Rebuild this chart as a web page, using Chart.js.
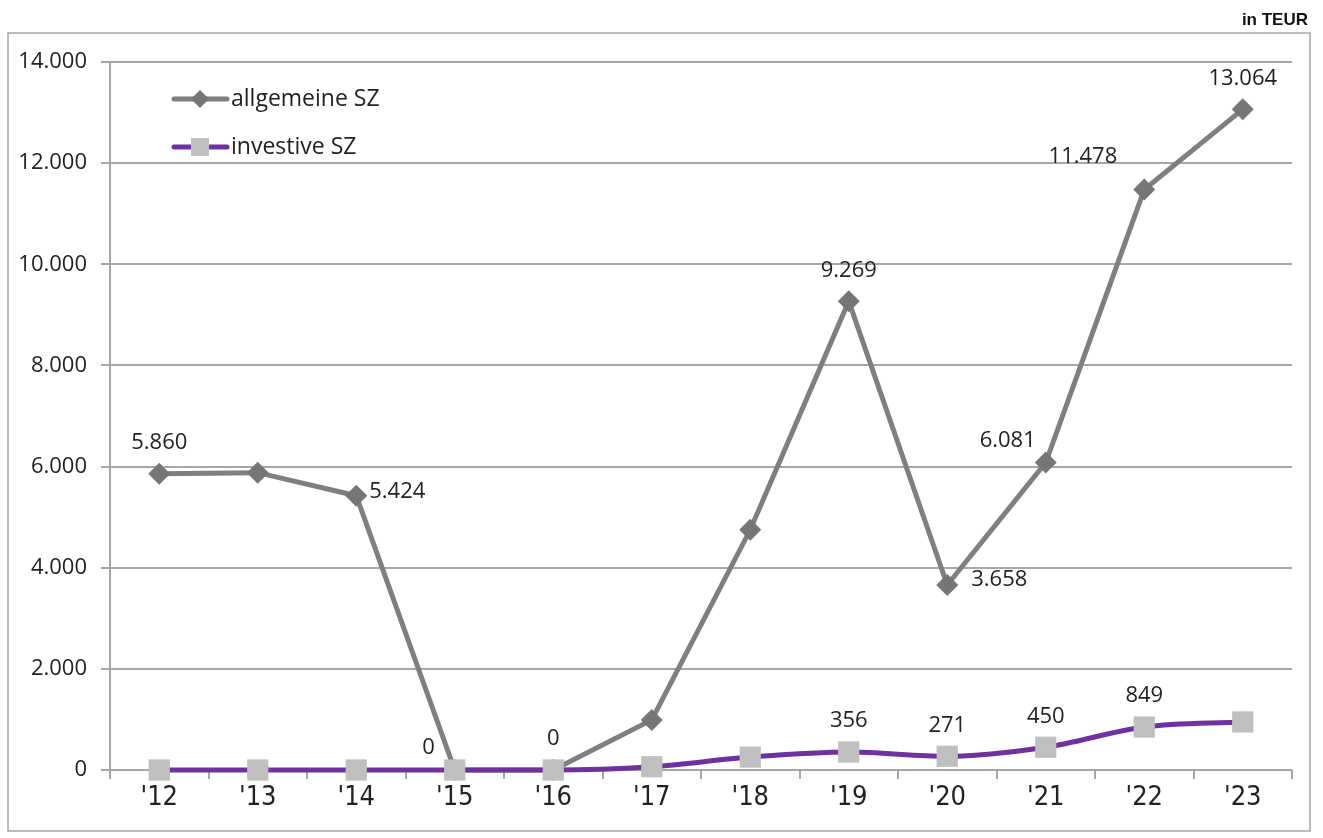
<!DOCTYPE html>
<html>
<head>
<meta charset="utf-8">
<script src="https://cdn.jsdelivr.net/npm/chart.js@4/dist/chart.umd.min.js"></script>
<style>
  html, body { margin: 0; padding: 0; background: #fff; }
  #wrap { position: relative; width: 1323px; height: 838px; }
</style>
</head>
<body>
<div id="wrap"><canvas id="chart"></canvas></div>
<script>
// ---- Daten ----
const JAHRE       = ["'12", "'13", "'14", "'15", "'16", "'17", "'18", "'19", "'20", "'21", "'22", "'23"];
const ALLGEMEIN   = [5860, 5880, 5424, 0, 0, 990, 4750, 9269, 3658, 6081, 11478, 13064];
const INVESTIV    = [0, 0, 0, 0, 0, 65, 255, 356, 271, 450, 849, 950];
// welche Werte beschriftet werden und wo (null = keine Beschriftung)
const LBL_ALLG    = ['above', null, 'right', 'aboveLeft', 'above', null, null, 'above', 'belowRight', 'aboveLeft', 'left', 'above'];
const LBL_INV     = [null, null, null, null, null, null, null, 'above', 'above', 'above', 'above', null];
const Y_TICKS     = [0, 2000, 4000, 6000, 8000, 10000, 12000, 14000];

const GRAU   = '#7f7f7f';
const LILA   = '#7030a0';
const HELL   = '#bfbfbf';
const TEXT   = '#222222';
const FONT   = "'Open Sans', 'Noto Sans', sans-serif";
const NARROW = "'DejaVu Sans Condensed', 'Liberation Sans Narrow', 'Liberation Sans', sans-serif";

function fmt(n) {
  return String(n).replace(/\B(?=(\d{3})+(?!\d))/g, '.');
}

// Rahmen + "in TEUR"
const rahmenPlugin = {
  id: 'rahmen',
  beforeDraw(chart) {
    const c = chart.ctx;
    c.save();
    c.fillStyle = '#fff';
    c.fillRect(0, 0, chart.width, chart.height);
    c.strokeStyle = '#a6a6a6';
    c.lineWidth = 1.5;
    c.strokeRect(8, 33, 1302, 798);
    c.fillStyle = '#111';
    c.font = "bold 17px 'Liberation Sans', Arial, sans-serif";
    c.textAlign = 'right';
    c.textBaseline = 'middle';
    c.fillText('in TEUR', 1308, 20);
    c.restore();
  }
};

// Datenbeschriftungen
const labelPlugin = {
  id: 'werte',
  afterDatasetsDraw(chart) {
    const c = chart.ctx;
    const pos = [LBL_ALLG, LBL_INV];
    c.save();
    c.font = '22px ' + FONT;
    c.fillStyle = TEXT;
    c.textBaseline = 'middle';
    chart.data.datasets.forEach((ds, di) => {
      chart.getDatasetMeta(di).data.forEach((pt, i) => {
        const p = pos[di][i];
        if (!p) return;
        let x = pt.x, y = pt.y;
        if (p === 'above')      { c.textAlign = 'center'; y -= 31; }
        if (p === 'right')      { c.textAlign = 'left';   x += 13; y -= 4; }
        if (p === 'belowRight') { c.textAlign = 'left';   x += 24; y -= 5; }
        if (p === 'left')       { c.textAlign = 'right';  x -= 27; y -= 33; }
        if (p === 'aboveLeft')  { c.textAlign = 'right';  x -= 20; y -= 22; }
        // '21: Beschriftung etwas näher am Punkt
        if (di === 0 && i === 9) { x += 10; }
        c.fillText(fmt(ds.data[i]), x, y);
      });
    });
    c.restore();
  }
};

// Legende im Diagramm
const legendePlugin = {
  id: 'legende',
  afterDraw(chart) {
    const c = chart.ctx;
    const rows = [
      { y: 99,  line: GRAU, name: 'allgemeine SZ', marker: 'diamond' },
      { y: 147, line: LILA, name: 'investive SZ',  marker: 'square' }
    ];
    c.save();
    rows.forEach(r => {
      c.strokeStyle = r.line;
      c.lineWidth = 5;
      c.lineCap = 'round';
      c.beginPath();
      c.moveTo(174, r.y);
      c.lineTo(227, r.y);
      c.stroke();
      if (r.marker === 'diamond') {
        c.fillStyle = '#767676';
        c.beginPath();
        c.moveTo(200, r.y - 9); c.lineTo(209, r.y); c.lineTo(200, r.y + 9); c.lineTo(191, r.y);
        c.closePath();
        c.fill();
      } else {
        c.fillStyle = HELL;
        c.fillRect(191, r.y - 9, 18, 18);
      }
      c.fillStyle = TEXT;
      c.font = '23px ' + FONT;
      c.textAlign = 'left';
      c.textBaseline = 'middle';
      c.fillText(r.name, 231, r.y);
    });
    c.restore();
  }
};

new Chart(document.getElementById('chart'), {
  type: 'line',
  data: {
    labels: JAHRE,
    datasets: [
      {
        label: 'allgemeine SZ',
        data: ALLGEMEIN,
        borderColor: GRAU,
        borderWidth: 5,
        pointStyle: 'rectRot',
        pointRadius: 11,
        pointBackgroundColor: '#767676',
        pointBorderWidth: 0,
        tension: 0,
        clip: false,
        order: 2
      },
      {
        label: 'investive SZ',
        data: INVESTIV,
        borderColor: LILA,
        borderWidth: 5,
        pointStyle: 'rect',
        pointRadius: 15,
        pointBackgroundColor: HELL,
        pointBorderWidth: 0,
        cubicInterpolationMode: 'monotone',
        clip: false,
        order: 1
      }
    ]
  },
  options: {
    responsive: true,
    maintainAspectRatio: false,
    animation: false,
    layout: { padding: { left: 0, right: 31, top: 62, bottom: 6 } },
    plugins: {
      legend:  { display: false },
      tooltip: { enabled: false }
    },
    scales: {
      x: {
        offset: true,
        grid: {
          offset: true,
          drawOnChartArea: false,
          drawTicks: true,
          tickLength: 9,
          color: '#a6a6a6',
          lineWidth: 2
        },
        border: { display: false },
        ticks: {
          color: TEXT,
          font: { family: NARROW, size: 27 },
          padding: 3
        },
        afterFit(s) { s.height = 62; }
      },
      y: {
        min: 0,
        max: 14000,
        afterBuildTicks(s) { s.ticks = Y_TICKS.map(v => ({ value: v })); },
        grid: {
          color: '#a6a6a6',
          lineWidth: 2,
          tickLength: 9,
          drawTicks: true
        },
        border: { color: '#a6a6a6', width: 2 },
        ticks: {
          color: TEXT,
          font: { family: FONT, size: 22 },
          padding: 14,
          callback: v => fmt(v)
        },
        afterFit(s) { s.width = 110; }
      }
    }
  },
  plugins: [rahmenPlugin, labelPlugin, legendePlugin]
});
</script>
</body>
</html>
